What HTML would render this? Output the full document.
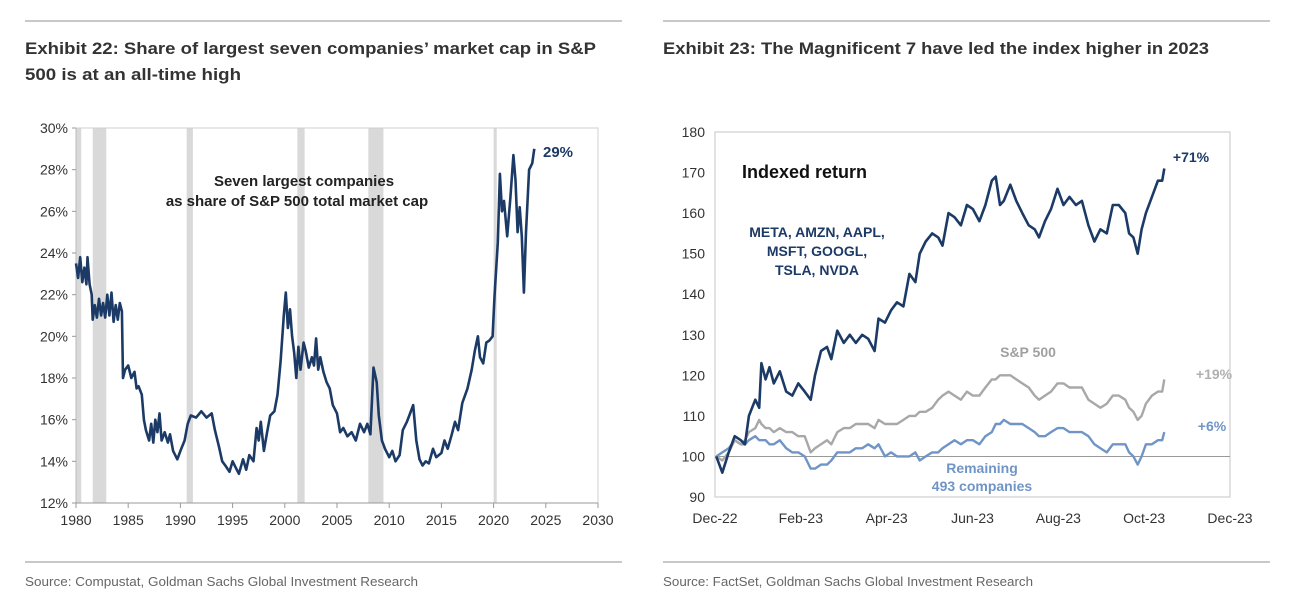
<!DOCTYPE html>
<html><head><meta charset="utf-8"><style>
html,body{margin:0;padding:0;background:#fff;}
svg{display:block;font-family:"Liberation Sans",Arial,sans-serif;}
</style></head><body>
<svg id="c" width="1292" height="604" viewBox="0 0 1292 604" xmlns="http://www.w3.org/2000/svg">
<g>
<line x1="25" y1="21" x2="622" y2="21" stroke="#c8c8c8" stroke-width="2"/>
<line x1="25" y1="562" x2="622" y2="562" stroke="#c8c8c8" stroke-width="2"/>
<text x="25" y="54" font-size="17" font-weight="bold" fill="#333" textLength="571" lengthAdjust="spacingAndGlyphs">Exhibit 22: Share of largest seven companies’ market cap in S&amp;P</text>
<text x="25" y="80" font-size="17" font-weight="bold" fill="#333" textLength="216" lengthAdjust="spacingAndGlyphs">500 is at an all-time high</text>
<text x="25" y="586" font-size="13" fill="#666" textLength="393" lengthAdjust="spacingAndGlyphs">Source: Compustat, Goldman Sachs Global Investment Research</text>
</g>
<g>
<line x1="663" y1="21" x2="1270" y2="21" stroke="#c8c8c8" stroke-width="2"/>
<line x1="663" y1="562" x2="1270" y2="562" stroke="#c8c8c8" stroke-width="2"/>
<text x="663" y="54" font-size="17" font-weight="bold" fill="#333" textLength="546" lengthAdjust="spacingAndGlyphs">Exhibit 23: The Magnificent 7 have led the index higher in 2023</text>
<text x="663" y="586" font-size="13" fill="#666" textLength="370" lengthAdjust="spacingAndGlyphs">Source: FactSet, Goldman Sachs Global Investment Research</text>
</g>
<g id="left"></g>
<g id="right"></g>
</svg>
<script>
const NS="http://www.w3.org/2000/svg";
// ---- Left chart data ----
const leftYears=[1980.0,1980.2,1980.4,1980.6,1980.8,1981.0,1981.1,1981.3,1981.5,1981.6,1981.8,1982.0,1982.2,1982.4,1982.6,1982.8,1983.0,1983.2,1983.4,1983.6,1983.8,1984.0,1984.2,1984.4,1984.5,1984.7,1985.0,1985.3,1985.6,1985.8,1986.0,1986.3,1986.5,1986.7,1987.0,1987.2,1987.4,1987.6,1987.8,1988.0,1988.2,1988.5,1988.8,1989.0,1989.3,1989.7,1990.0,1990.4,1990.7,1991.0,1991.5,1992.0,1992.5,1993.0,1993.3,1993.7,1994.0,1994.3,1994.7,1995.0,1995.3,1995.6,1996.0,1996.3,1996.6,1997.0,1997.3,1997.5,1997.7,1998.0,1998.3,1998.6,1999.0,1999.3,1999.6,1999.9,2000.1,2000.3,2000.5,2000.7,2000.9,2001.1,2001.3,2001.5,2001.8,2002.0,2002.3,2002.6,2002.8,2003.0,2003.2,2003.4,2003.7,2004.0,2004.3,2004.6,2005.0,2005.3,2005.6,2006.0,2006.4,2006.8,2007.2,2007.6,2007.9,2008.2,2008.5,2008.8,2009.0,2009.3,2009.6,2010.0,2010.3,2010.6,2011.0,2011.3,2011.7,2012.0,2012.3,2012.6,2012.9,2013.2,2013.5,2013.8,2014.2,2014.5,2015.0,2015.3,2015.6,2016.0,2016.3,2016.6,2017.0,2017.5,2017.9,2018.2,2018.5,2018.7,2019.0,2019.3,2019.6,2019.9,2020.1,2020.4,2020.6,2020.8,2021.0,2021.3,2021.6,2021.9,2022.1,2022.3,2022.5,2022.7,2022.9,2023.1,2023.4,2023.7,2023.9];
const leftShare=[23.5,22.8,23.8,22.6,23.3,22.5,23.8,22.5,22.0,20.8,21.5,20.9,21.8,21.0,21.6,20.9,22.0,21.0,22.1,20.7,21.5,20.8,21.6,21.2,18.0,18.4,18.6,18.0,18.3,17.5,17.6,17.2,16.0,15.5,15.0,15.8,14.9,16.0,15.4,16.3,15.0,15.4,14.9,15.3,14.5,14.1,14.5,15.0,15.8,16.2,16.1,16.4,16.1,16.3,15.5,14.7,14.0,13.8,13.5,14.0,13.7,13.4,14.1,13.6,14.3,14.0,15.6,15.0,15.9,14.5,15.4,16.2,16.4,17.2,18.8,21.0,22.1,20.4,21.3,20.0,19.2,18.0,19.5,18.4,19.7,19.3,18.5,19.0,18.6,19.9,18.4,19.0,18.3,17.8,17.5,16.7,16.3,15.4,15.6,15.2,15.4,15.0,15.8,15.4,15.8,15.3,18.5,17.8,16.2,15.0,14.6,14.2,14.5,14.0,14.3,15.5,15.9,16.3,16.7,15.0,14.1,13.8,14.0,13.9,14.6,14.2,14.4,15.0,14.6,15.3,15.9,15.5,16.8,17.5,18.4,19.3,20.0,19.0,18.7,19.7,19.8,20.0,22.0,24.5,27.8,26.0,26.5,24.8,26.6,28.7,27.5,25.0,26.2,24.8,22.1,25.0,28.0,28.3,29.0];
const recessionStart=[1980.0,1981.6,1990.6,2001.2,2008.0,2020.0];
const recessionEnd=[1980.5,1982.9,1991.2,2001.9,2009.45,2020.3];
const leftYTicks=[12,14,16,18,20,22,24,26,28,30];
const leftXTicks=[1980,1985,1990,1995,2000,2005,2010,2015,2020,2025,2030];

// ---- Right chart data ----
const rightMonths=[0.03,0.17,0.32,0.46,0.60,0.70,0.79,0.94,1.03,1.08,1.18,1.27,1.37,1.51,1.66,1.80,1.94,2.09,2.23,2.33,2.47,2.61,2.71,2.85,3.00,3.14,3.28,3.43,3.57,3.72,3.81,3.96,4.10,4.24,4.39,4.53,4.67,4.77,4.91,5.06,5.20,5.30,5.44,5.58,5.73,5.87,6.01,6.16,6.30,6.45,6.54,6.64,6.73,6.88,7.02,7.16,7.31,7.45,7.55,7.69,7.83,7.98,8.12,8.26,8.41,8.55,8.70,8.84,8.98,9.13,9.27,9.41,9.56,9.65,9.75,9.85,9.94,10.04,10.18,10.32,10.42,10.47];
const mag7=[100,96,101,105,104,103,110,114,112,123,119,122,118,121,116,115,118,116,114,120,126,127,124,131,128,130,128,130,129,126,134,133,136,138,137,145,143,150,153,155,154,152,160,159,157,162,161,158,162,168,169,162,163,167,163,160,157,156,154,158,161,166,162,164,162,163,157,153,156,155,162,162,160,155,154,150,156,160,164,168,168,171];
const sp500=[100,99,101,104,103,104,106,107,109,108,107,107,106,107,106,106,105,105,101,102,103,104,103,106,107,107,108,108,108,107,109,108,108,108,109,110,110,111,111,112,114,115,116,115,114,116,115,115,117,119,119,120,120,120,119,118,117,115,114,115,116,118,118,117,117,117,114,113,112,113,115,115,114,112,111,109,110,113,115,116,116,119];
const rest493=[100,101,102,104,103,103,104,105,104,104,104,103,103,104,102,101,101,100,97,97,98,98,99,101,101,101,102,102,103,102,103,100,101,100,100,100,101,99,100,101,101,102,103,104,103,104,104,103,105,106,108,108,109,108,108,108,107,106,105,105,106,107,107,106,106,106,105,103,102,101,103,103,103,101,100,98,100,103,103,104,104,106];
const rightYTicks=[90,100,110,120,130,140,150,160,170,180];
const rightXTickLabels=["Dec-22","Feb-23","Apr-23","Jun-23","Aug-23","Oct-23","Dec-23"];

function el(parent,tag,attrs,text){const e=document.createElementNS(NS,tag);for(const k in attrs)e.setAttribute(k,attrs[k]);if(text!==undefined)e.textContent=text;parent.appendChild(e);return e;}

// ---- Left chart ----
(function(){
const g=document.getElementById('left');
const X0=76,X1=598,Y0=503,Y1=128;
const xs=y=>X0+(y-1980)/50*(X1-X0);
const ys=v=>Y0-(v-12)/18*(Y0-Y1);
for(let i=0;i<recessionStart.length;i++){
 const r=el(g,'rect',{x:xs(recessionStart[i]),y:Y1,width:Math.max(1.5,xs(recessionEnd[i])-xs(recessionStart[i])),height:Y0-Y1,fill:'#d9d9d9'});
 
 
}
el(g,'rect',{x:X0,y:Y1,width:X1-X0,height:Y0-Y1,fill:'none',stroke:'#d0d0d0','stroke-width':1});
el(g,'line',{x1:X0,y1:Y1,x2:X0,y2:Y0,stroke:'#bbb','stroke-width':1});
el(g,'line',{x1:X0,y1:Y0,x2:X1,y2:Y0,stroke:'#999','stroke-width':1});
leftYTicks.forEach(v=>{
 const t=el(g,'text',{x:X0-8,y:ys(v)+5,'font-size':14,fill:'#333','text-anchor':'end'},v+'%');
 
 
 el(g,'line',{x1:X0-4,y1:ys(v),x2:X0,y2:ys(v),stroke:'#999'});
});
leftXTicks.forEach(v=>{
 const t=el(g,'text',{x:xs(v),y:Y0+22,'font-size':14,fill:'#333','text-anchor':'middle'},String(v));
 
 
 el(g,'line',{x1:xs(v),y1:Y0,x2:xs(v),y2:Y0+5,stroke:'#999'});
});
let d='';leftYears.forEach((y,i)=>{d+=(i?'L':'M')+xs(y).toFixed(1)+','+ys(leftShare[i]).toFixed(1);});
const p=el(g,'path',{d:d,fill:'none',stroke:'#1c3a66','stroke-width':2.6,'stroke-linejoin':'round'});


const a=el(g,'text',{x:543,y:157,'font-size':15,'font-weight':'bold',fill:'#1c3a66'},'29%');


const l1=el(g,'text',{x:304,y:186,'font-size':15,'font-weight':'bold',fill:'#222','text-anchor':'middle'},'Seven largest companies');


const l2=el(g,'text',{x:297,y:206,'font-size':15,'font-weight':'bold',fill:'#222','text-anchor':'middle'},'as share of S&P 500 total market cap');


})();

// ---- Right chart ----
(function(){
const g=document.getElementById('right');
const X0=715,X1=1230,Y0=497,Y1=132;
const xs=m=>X0+m/12*(X1-X0);
const ys=v=>Y0-(v-90)/90*(Y0-Y1);
el(g,'rect',{x:X0,y:Y1,width:X1-X0,height:Y0-Y1,fill:'none',stroke:'#cfcfcf','stroke-width':1.2});
const base=el(g,'line',{x1:X0,y1:ys(100),x2:X1,y2:ys(100),stroke:'#999','stroke-width':1});


rightYTicks.forEach(v=>{
 const t=el(g,'text',{x:X0-10,y:ys(v)+5,'font-size':14,fill:'#333','text-anchor':'end'},String(v));
 
 
});
rightXTickLabels.forEach((s,i)=>{
 const t=el(g,'text',{x:xs(i*2),y:Y0+26,'font-size':14,fill:'#333','text-anchor':'middle'},s);
 
 
});
function line(vals,color,w){let d='';rightMonths.forEach((m,i)=>{d+=(i?'L':'M')+xs(m).toFixed(1)+','+ys(vals[i]).toFixed(1);});return el(g,'path',{d:d,fill:'none',stroke:color,'stroke-width':w,'stroke-linejoin':'round'});}
const r=line(rest493,'#6f95c7',2.4);


const s=line(sp500,'#a8a8a8',2.4);


const m=line(mag7,'#1c3a66',2.6);


const labels=[
 ['Indexed return',742,178,18,'#111','start','chart-subtitle'],
 ['META, AMZN, AAPL,',817,237,14,'#1c3a66','middle','mag7-label-1'],
 ['MSFT, GOOGL,',817,256,14,'#1c3a66','middle','mag7-label-2'],
 ['TSLA, NVDA',817,275,14,'#1c3a66','middle','mag7-label-3'],
 ['S&P 500',1028,357,14,'#a0a0a0','middle','sp500-label'],
 ['Remaining',982,473,14,'#6f95c7','middle','remaining-label-1'],
 ['493 companies',982,491,14,'#6f95c7','middle','remaining-label-2'],
 ['+71%',1191,162,14,'#1c3a66','middle','mag7-end-label'],
 ['+19%',1214,379,14,'#b0b0b0','middle','sp500-end-label'],
 ['+6%',1212,431,14,'#6f95c7','middle','remaining-end-label']];
labels.forEach(L=>{
 const t=el(g,'text',{x:L[1],y:L[2],'font-size':L[3],'font-weight':'bold',fill:L[4],'text-anchor':L[5]},L[0]);
 
 
});
})();
</script>
</body></html>
